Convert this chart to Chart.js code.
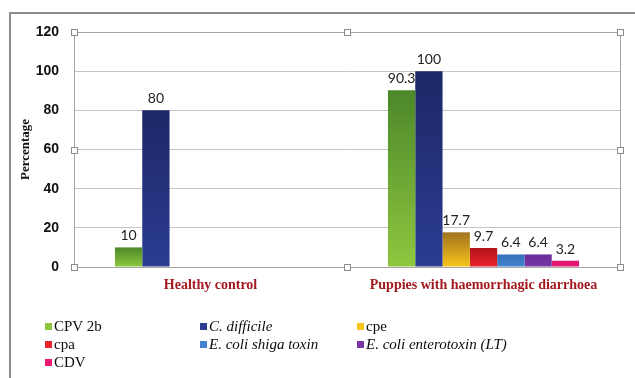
<!DOCTYPE html>
<html>
<head>
<meta charset="utf-8">
<script src="https://cdn.jsdelivr.net/npm/chart.js@4"></script>
<style>
  html, body { margin: 0; padding: 0; background: #fff; }
  #wrap { position: relative; width: 635px; height: 378px; overflow: hidden; }
  #chart { position: absolute; left: 0; top: 0; }
  #frame { position: absolute; left: 9px; top: 12px; width: 700px; height: 500px;
           border-top: 2px solid #8c8c8c; border-left: 2px solid #8c8c8c; }
  #legend { position: absolute; left: 45px; top: 318px; display: grid;
            grid-template-columns: 155px 157px auto; grid-auto-rows: 18px;
            font-family: "Liberation Serif", serif; font-size: 15px; color: #0a0a0a; }
  #legend span.box { display: inline-block; width: 7px; height: 7px; margin-right: 2px; vertical-align: 1px; }
  #legend .it { font-style: italic; }
</style>
</head>
<body>
<div id="wrap">
  <div id="frame"></div>
  <canvas id="chart" width="635" height="378"></canvas>
  <div id="legend"></div>
</div>
<script>
// categories and series
const categories = ["Healthy control", "Puppies with haemorrhagic diarrhoea"];
const seriesNames = ["CPV 2b", "C. difficile", "cpe", "cpa", "E. coli shiga toxin", "E. coli enterotoxin (LT)", "CDV"];
const italicNames = [false, true, false, false, true, true, false];
const cpv2b      = [10, 90.3];
const cDifficile = [80, 100];
const cpe        = [null, 17.7];
const cpa        = [null, 9.7];
const shigaToxin = [null, 6.4];
const enterotoxin = [null, 6.4];
const cdv        = [null, 3.2];
const seriesValues = [cpv2b, cDifficile, cpe, cpa, shigaToxin, enterotoxin, cdv];

// top / bottom colours of each bar gradient
const barColors = [
    ["#4c872a", "#8ec73f"],
    ["#1d2866", "#2b3c92"],
    ["#a07220", "#f8c619"],
    ["#b0131b", "#ea222b"],
    ["#3670bb", "#4383d0"],
    ["#6a2b96", "#7836a8"],
    ["#df136a", "#ea1a74"]
];

function gradient(top, bottom) {
    return ctx => {
        const y = ctx.chart.scales.y;
        if (!y || ctx.raw == null) return bottom;
        const y0 = y.getPixelForValue(ctx.raw);
        const y1 = y.getPixelForValue(0);
        if (!isFinite(y0) || !isFinite(y1) || y0 === y1) return bottom;
        const g = ctx.chart.ctx.createLinearGradient(0, y0, 0, y1);
        g.addColorStop(0, top);
        g.addColorStop(1, bottom);
        return g;
    };
}

// value labels above bars
const valueLabels = {
    id: "valueLabels",
    afterDatasetsDraw(chart) {
        const c = chart.ctx;
        c.save();
        c.font = "14px Lato, sans-serif";
        c.fillStyle = "#222";
        c.textAlign = "center";
        c.textBaseline = "alphabetic";
        chart.data.datasets.forEach((ds, di) => {
            chart.getDatasetMeta(di).data.forEach((bar, i) => {
                const v = ds.data[i];
                if (v == null) return;
                c.fillText(String(v), bar.x, bar.y - 7);
            });
        });
        c.restore();
    }
};

// plot-area outline and selection handles
const plotFrame = {
    id: "plotFrame",
    afterDraw(chart) {
        const a = chart.chartArea;
        const c = chart.ctx;
        c.save();
        c.strokeStyle = "#a6a6a6";
        c.lineWidth = 1;
        c.strokeRect(a.left + 0.5, a.top + 0.5, a.right - a.left, a.bottom - a.top);
        const xs = [a.left, (a.left + a.right) / 2, a.right];
        const ys = [a.top, (a.top + a.bottom) / 2, a.bottom];
        xs.forEach((x, ix) => ys.forEach((y, iy) => {
            if (ix === 1 && iy === 1) return;
            c.fillStyle = "#fff";
            c.fillRect(Math.round(x) - 3, Math.round(y) - 3, 7, 7);
            c.strokeStyle = "#8c8c8c";
            c.strokeRect(Math.round(x) - 2.5, Math.round(y) - 2.5, 6, 6);
        }));
        c.restore();
    }
};

const chart = new Chart(document.getElementById("chart").getContext("2d"), {
    type: "bar",
    data: {
        labels: categories,
        datasets: seriesNames.map((name, i) => ({
            label: name,
            data: seriesValues[i],
            backgroundColor: gradient(barColors[i][0], barColors[i][1]),
            categoryPercentage: 0.7,
            barPercentage: 1.0
        }))
    },
    options: {
        responsive: false,
        animation: false,
        layout: { padding: { left: 14, top: 32, right: 15, bottom: 81 } },
        plugins: { legend: { display: false }, tooltip: { enabled: false } },
        scales: {
            x: {
                grid: { display: false, drawTicks: false },
                border: { color: "#a6a6a6" },
                ticks: {
                    padding: 10,
                    color: "#a3191f",
                    font: { family: "Liberation Serif", size: 14, weight: "bold" }
                },
                afterFit: s => { s.height = 30; }
            },
            y: {
                min: 0,
                max: 120,
                ticks: {
                    stepSize: 20,
                    padding: 15,
                    color: "#111",
                    font: { family: "Liberation Sans", size: 14, weight: "bold" }
                },
                grid: { color: "#c4c4c4", drawTicks: false },
                border: { color: "#a6a6a6" },
                title: {
                    display: true,
                    text: "Percentage",
                    color: "#111",
                    font: { family: "Liberation Serif", size: 13, weight: "bold" }
                },
                afterFit: s => { s.width = 60; }
            }
        }
    },
    plugins: [valueLabels, plotFrame]
});

// legend in three columns, built from the series
const legend = document.getElementById("legend");
seriesNames.forEach((name, i) => {
    const item = document.createElement("div");
    const box = document.createElement("span");
    box.className = "box";
    box.style.background = barColors[i][1];
    const txt = document.createElement("span");
    txt.textContent = name;
    if (italicNames[i]) txt.className = "it";
    item.appendChild(box);
    item.appendChild(txt);
    legend.appendChild(item);
});
</script>
</body>
</html>
